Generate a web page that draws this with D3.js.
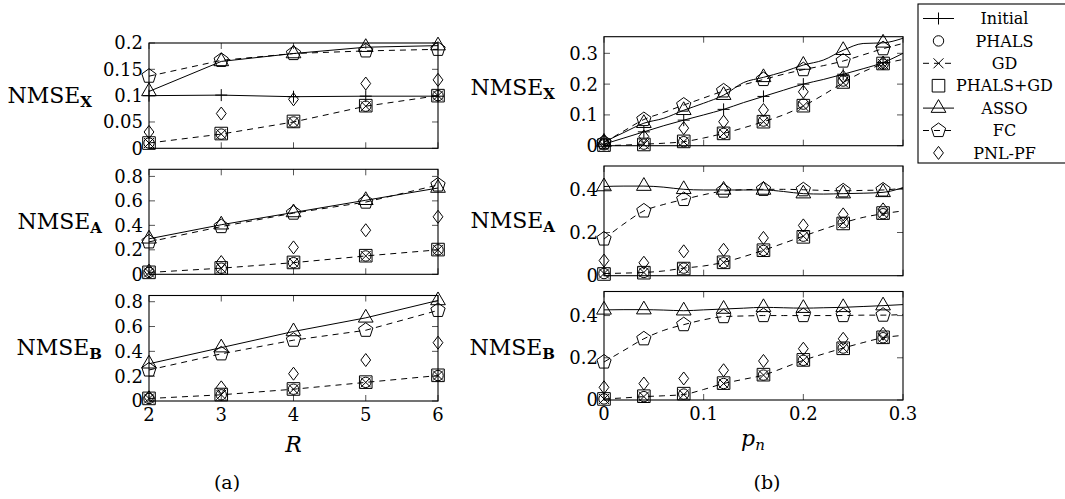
<!DOCTYPE html>
<html>
<head>
<meta charset="utf-8">
<script src="https://cdn.jsdelivr.net/npm/d3@7"></script>
<style>
  body { margin: 0; background: #fff; }
</style>
</head>
<body>
<div id="chart"></div>
<script>
// ---- data -------------------------------------------------------------
const methods = ["Initial", "PHALS", "GD", "PHALS+GD", "ASSO", "FC", "PNL-PF"];

// (a) versus R
const rankR = [2, 3, 4, 5, 6];
const aX_Initial = [0.100, 0.101, 0.098, 0.099, 0.099];
const aX_PHALS   = [0.010, 0.027, 0.050, 0.080, 0.100];
const aX_GD      = [0.010, 0.027, 0.050, 0.080, 0.100];
const aX_PHALSGD = [0.010, 0.028, 0.051, 0.081, 0.100];
const aX_ASSO    = [0.108, 0.165, 0.180, 0.192, 0.195];
const aX_FC      = [0.137, 0.167, 0.180, 0.185, 0.188];
const aX_PNLPF   = [0.031, 0.066, 0.093, 0.123, 0.130];

const aA_PHALS   = [0.015, 0.050, 0.095, 0.150, 0.200];
const aA_GD      = [0.015, 0.050, 0.095, 0.150, 0.200];
const aA_PHALSGD = [0.016, 0.052, 0.097, 0.152, 0.202];
const aA_ASSO    = [0.290, 0.405, 0.505, 0.605, 0.705];
const aA_FC      = [0.265, 0.390, 0.500, 0.590, 0.730];
const aA_PNLPF   = [0.030, 0.100, 0.220, 0.360, 0.470];

const aB_PHALS   = [0.020, 0.050, 0.095, 0.150, 0.205];
const aB_GD      = [0.020, 0.050, 0.095, 0.150, 0.205];
const aB_PHALSGD = [0.021, 0.052, 0.097, 0.152, 0.207];
const aB_ASSO    = [0.300, 0.430, 0.560, 0.670, 0.810];
const aB_FC      = [0.250, 0.380, 0.490, 0.570, 0.730];
const aB_PNLPF   = [0.030, 0.110, 0.220, 0.330, 0.470];

// (b) versus p_n : curves on pnLine, marks on pnMark
const pnLine = [0, 0.02, 0.04, 0.06, 0.08, 0.10, 0.12, 0.14, 0.16, 0.18, 0.20, 0.22, 0.24, 0.26, 0.28, 0.30];
const pnMark = [0, 0.04, 0.08, 0.12, 0.16, 0.20, 0.24, 0.28];

const bX_Initial = [0.005, 0.025, 0.045, 0.065, 0.083, 0.100, 0.118, 0.140, 0.160, 0.180, 0.200, 0.215, 0.232, 0.250, 0.270, 0.300];
const bX_GD      = [0.000, 0.002, 0.005, 0.008, 0.013, 0.025, 0.040, 0.058, 0.078, 0.100, 0.129, 0.165, 0.205, 0.240, 0.265, 0.280];
const bX_ASSO    = [0.012, 0.043, 0.073, 0.089, 0.115, 0.138, 0.164, 0.205, 0.222, 0.240, 0.262, 0.278, 0.310, 0.332, 0.334, 0.349];
const bX_FC      = [0.010, 0.048, 0.085, 0.108, 0.132, 0.155, 0.178, 0.198, 0.215, 0.232, 0.247, 0.260, 0.275, 0.295, 0.315, 0.332];
const bX_PHALS   = [0.003, 0.005, 0.013, 0.040, 0.080, 0.135, 0.210, 0.265];
const bX_PHALSGD = [0.002, 0.004, 0.014, 0.040, 0.078, 0.130, 0.207, 0.267];
const bX_PNLPF   = [0.010, 0.030, 0.057, 0.078, 0.116, 0.175, 0.224, 0.270];

const bA_GD      = [0.010, 0.012, 0.015, 0.022, 0.035, 0.045, 0.062, 0.088, 0.118, 0.150, 0.183, 0.215, 0.245, 0.270, 0.287, 0.300];
const bA_ASSO    = [0.413, 0.415, 0.415, 0.410, 0.400, 0.397, 0.397, 0.397, 0.397, 0.390, 0.380, 0.378, 0.380, 0.382, 0.386, 0.408];
const bA_FC      = [0.170, 0.240, 0.300, 0.330, 0.353, 0.375, 0.392, 0.398, 0.400, 0.400, 0.398, 0.395, 0.393, 0.395, 0.397, 0.405];
const bA_PHALS   = [0.010, 0.015, 0.035, 0.060, 0.117, 0.183, 0.245, 0.287];
const bA_PHALSGD = [0.008, 0.014, 0.033, 0.062, 0.118, 0.180, 0.242, 0.290];
const bA_PNLPF   = [0.070, 0.060, 0.113, 0.120, 0.175, 0.233, 0.284, 0.307];

const bB_GD      = [0.005, 0.010, 0.016, 0.020, 0.026, 0.050, 0.078, 0.098, 0.118, 0.152, 0.188, 0.218, 0.246, 0.272, 0.295, 0.306];
const bB_ASSO    = [0.427, 0.428, 0.428, 0.426, 0.423, 0.427, 0.431, 0.435, 0.439, 0.437, 0.435, 0.437, 0.439, 0.443, 0.447, 0.452];
const bB_FC      = [0.180, 0.235, 0.290, 0.330, 0.357, 0.380, 0.395, 0.398, 0.400, 0.400, 0.400, 0.400, 0.400, 0.402, 0.402, 0.405];
const bB_PHALS   = [0.005, 0.016, 0.028, 0.078, 0.118, 0.188, 0.246, 0.295];
const bB_PHALSGD = [0.005, 0.018, 0.030, 0.080, 0.120, 0.190, 0.245, 0.297];
const bB_PNLPF   = [0.060, 0.078, 0.102, 0.141, 0.185, 0.243, 0.290, 0.314];

// ticks
const aXTicks = [2, 3, 4, 5, 6];
const aYTicksX = [0, 0.05, 0.1, 0.15, 0.2];
const aYTicksAB = [0, 0.2, 0.4, 0.6, 0.8];
const bXTicks = [0, 0.1, 0.2, 0.3];
const bYTicksX = [0, 0.1, 0.2, 0.3];
const bYTicksAB = [0, 0.2, 0.4];

// ---- styling ----------------------------------------------------------
const SERIF = "'DejaVu Serif', serif";
const DASH = "6,5";
const style = {
  "Initial":  { mark: "plus",     dash: null, line: true },
  "PHALS":    { mark: "circle",   dash: null, line: false },
  "GD":       { mark: "cross",    dash: DASH, line: true },
  "PHALS+GD": { mark: "square",   dash: null, line: false },
  "ASSO":     { mark: "triangle", dash: null, line: true },
  "FC":       { mark: "pentagon", dash: DASH, line: true },
  "PNL-PF":   { mark: "diamond",  dash: null, line: false }
};

function pentagon(r) {
  const pts = d3.range(5).map(k => {
    const a = (-90 + 72 * k) * Math.PI / 180;
    return [r * Math.cos(a), r * Math.sin(a)];
  });
  return "M" + pts.map(p => p[0].toFixed(2) + "," + p[1].toFixed(2)).join("L") + "Z";
}
const markPaths = {
  plus: "M-6,0H6M0,-6V6",
  circle: "M5.2,0A5.2,5.2 0 1,1 -5.2,0A5.2,5.2 0 1,1 5.2,0Z",
  cross: "M-5,-5L5,5M-5,5L5,-5",
  square: "M-6.3,-6.3H6.3V6.3H-6.3Z",
  triangle: "M0,-8.5L7.36,4.25L-7.36,4.25Z",
  pentagon: pentagon(7.5),
  diamond: "M0,-6.5L4.9,0L0,6.5L-4.9,0Z"
};

// ---- layout -----------------------------------------------------------
const svg = d3.select("#chart").append("svg")
  .attr("width", 1065).attr("height", 499)
  .attr("font-family", SERIF)
  .style("background", "#fff");

function addText(parent, x, y, size, str) {
  return parent.append("text")
    .attr("x", x).attr("y", y)
    .attr("font-family", SERIF).attr("font-size", size)
    .attr("fill", "#000")
    .text(str);
}

const panels = [
  { left: 149, right: 438, top: 43,    bottom: 148.3, ymax: 0.2,   xd: [2, 6],   xticks: aXTicks, yticks: aYTicksX,  sub: "X", labEnd: 92,  labBase: 103, xlabels: false, curve: d3.curveLinear,
    xs: rankR, series: { "Initial": aX_Initial, "PHALS": aX_PHALS, "GD": aX_GD, "PHALS+GD": aX_PHALSGD, "ASSO": aX_ASSO, "FC": aX_FC, "PNL-PF": aX_PNLPF } },
  { left: 149, right: 438, top: 169.3, bottom: 274.3, ymax: 0.858, xd: [2, 6],  xticks: aXTicks, yticks: aYTicksAB, sub: "A", labEnd: 102, labBase: 229, xlabels: false, curve: d3.curveLinear,
    xs: rankR, series: { "PHALS": aA_PHALS, "GD": aA_GD, "PHALS+GD": aA_PHALSGD, "ASSO": aA_ASSO, "FC": aA_FC, "PNL-PF": aA_PNLPF } },
  { left: 149, right: 438, top: 295.5, bottom: 401, ymax: 0.85,   xd: [2, 6],   xticks: aXTicks, yticks: aYTicksAB, sub: "B", labEnd: 102, labBase: 355, xlabels: true, curve: d3.curveLinear,
    xs: rankR, series: { "PHALS": aB_PHALS, "GD": aB_GD, "PHALS+GD": aB_PHALSGD, "ASSO": aB_ASSO, "FC": aB_FC, "PNL-PF": aB_PNLPF } },
  { left: 604, right: 903, top: 36.7,  bottom: 145.7, ymax: 0.354, xd: [0, 0.3], xticks: bXTicks, yticks: bYTicksX,  sub: "X", labEnd: 555, labBase: 95,  xlabels: false, curve: d3.curveMonotoneX,
    xs: pnLine, series: { "Initial": bX_Initial, "PHALS": bX_PHALS, "GD": bX_GD, "PHALS+GD": bX_PHALSGD, "ASSO": bX_ASSO, "FC": bX_FC, "PNL-PF": bX_PNLPF } },
  { left: 604, right: 903, top: 166,   bottom: 275.7, ymax: 0.508, xd: [0, 0.3], xticks: bXTicks, yticks: bYTicksAB, sub: "A", labEnd: 555, labBase: 228, xlabels: false, curve: d3.curveMonotoneX,
    xs: pnLine, series: { "PHALS": bA_PHALS, "GD": bA_GD, "PHALS+GD": bA_PHALSGD, "ASSO": bA_ASSO, "FC": bA_FC, "PNL-PF": bA_PNLPF } },
  { left: 604, right: 903, top: 291.5, bottom: 400, ymax: 0.514,   xd: [0, 0.3], xticks: bXTicks, yticks: bYTicksAB, sub: "B", labEnd: 555, labBase: 355, xlabels: true, curve: d3.curveMonotoneX,
    xs: pnLine, series: { "PHALS": bB_PHALS, "GD": bB_GD, "PHALS+GD": bB_PHALSGD, "ASSO": bB_ASSO, "FC": bB_FC, "PNL-PF": bB_PNLPF } }
];

const TICK = 6;

panels.forEach(p => {
  const x = d3.scaleLinear().domain(p.xd).range([p.left, p.right]);
  const y = d3.scaleLinear().domain([0, p.ymax]).range([p.bottom, p.top]);
  const g = svg.append("g");

  // inward ticks on all four sides
  const tk = g.append("g").attr("stroke", "#555").attr("stroke-width", 1);
  p.xticks.forEach(t => {
    tk.append("line").attr("x1", x(t)).attr("x2", x(t)).attr("y1", p.bottom).attr("y2", p.bottom - TICK);
    tk.append("line").attr("x1", x(t)).attr("x2", x(t)).attr("y1", p.top).attr("y2", p.top + TICK);
  });
  p.yticks.forEach(t => {
    tk.append("line").attr("x1", p.left).attr("x2", p.left + TICK).attr("y1", y(t)).attr("y2", y(t));
    tk.append("line").attr("x1", p.right).attr("x2", p.right - TICK).attr("y1", y(t)).attr("y2", y(t));
  });

  // frame
  g.append("rect")
    .attr("x", p.left).attr("y", p.top)
    .attr("width", p.right - p.left).attr("height", p.bottom - p.top)
    .attr("fill", "none").attr("stroke", "#000").attr("stroke-width", 1.1);

  // y tick labels
  p.yticks.forEach(t => {
    addText(g, p.left - 6, y(t), 18, String(t))
      .attr("dy", "0.36em").attr("text-anchor", "end");
  });

  if (p.xlabels) {
    p.xticks.forEach(t => {
      addText(g, x(t), p.bottom + 20, 18, String(t)).attr("text-anchor", "middle");
    });
  }

  // y label NMSE with bold subscript
  const lab = addText(g, p.labEnd, p.labBase, 22, null).attr("text-anchor", "end");
  lab.append("tspan").text("NMSE");
  lab.append("tspan").attr("font-weight", "bold").attr("font-size", 15).attr("dy", 4).text(p.sub);

  // series
  methods.forEach(m => {
    const vals = p.series[m];
    if (!vals) return;
    const st = style[m];
    let markPts;
    if (st.line) {
      const pts = p.xs.map((xv, i) => [x(xv), y(vals[i])]);
      g.append("path")
        .attr("d", d3.line().curve(p.curve)(pts))
        .attr("fill", "none").attr("stroke", "#000").attr("stroke-width", 1)
        .attr("stroke-dasharray", st.dash);
      markPts = p.xs === pnLine ? pts.filter((d, i) => i % 2 === 0 && i < pts.length - 1) : pts;
    } else {
      const xsM = p.xs === pnLine ? pnMark : p.xs;
      markPts = xsM.map((xv, i) => [x(xv), y(vals[i])]);
    }
    g.selectAll(null).data(markPts).enter().append("path")
      .attr("transform", d => "translate(" + d[0] + "," + d[1] + ")")
      .attr("d", markPaths[st.mark])
      .attr("fill", "none").attr("stroke", "#000").attr("stroke-width", 1);
  });
});

// axis labels
addText(svg, 293.5, 452, 22, "R").attr("text-anchor", "middle").attr("font-style", "italic");
const pn = addText(svg, 753, 446, 22, null).attr("text-anchor", "middle").attr("font-style", "italic");
pn.append("tspan").text("p");
pn.append("tspan").attr("font-size", 15).attr("dy", 4).text("n");

addText(svg, 227, 489, 19, "(a)").attr("text-anchor", "middle");
addText(svg, 767, 489, 19, "(b)").attr("text-anchor", "middle");

// legend
const leg = svg.append("g");
leg.append("rect").attr("x", 918).attr("y", 4).attr("width", 170).attr("height", 159)
  .attr("fill", "#fff").attr("stroke", "#000").attr("stroke-width", 1.1);
methods.forEach((m, i) => {
  const cy = 18.5 + i * 22.4;
  const st = style[m];
  if (st.line) {
    leg.append("line").attr("x1", 923).attr("x2", 954).attr("y1", cy).attr("y2", cy)
      .attr("stroke", "#000").attr("stroke-width", 1).attr("stroke-dasharray", st.dash);
  }
  leg.append("path").attr("transform", "translate(938.5," + cy + ")")
    .attr("d", markPaths[st.mark]).attr("fill", "none").attr("stroke", "#000");
  addText(leg, 1004.5, cy, 16, m).attr("dy", "0.36em").attr("text-anchor", "middle");
});
</script>
</body>
</html>
